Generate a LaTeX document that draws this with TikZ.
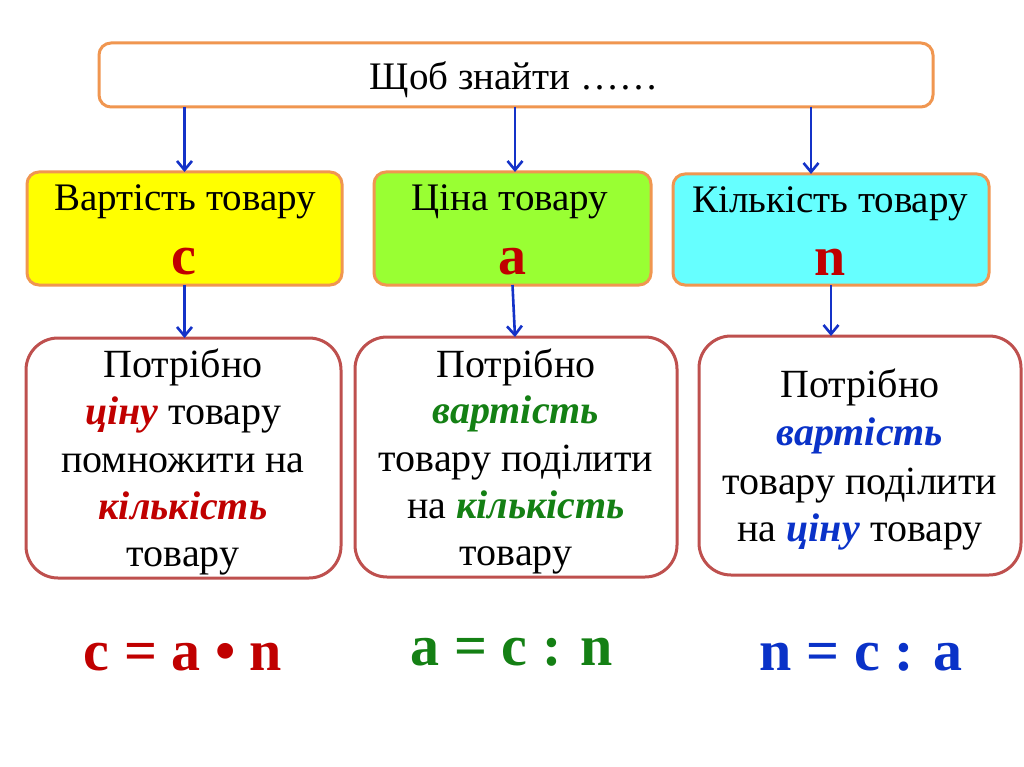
\documentclass[tikz,border=0pt]{standalone}
\usepackage{fontspec}
\setmainfont{Liberation Serif}
\usetikzlibrary{arrows.meta}
\definecolor{boxorange}{RGB}{240,150,80}
\definecolor{boxred}{RGB}{190,80,78}
\definecolor{txtred}{RGB}{192,0,0}
\definecolor{txtgreen}{RGB}{20,128,20}
\definecolor{txtblue}{RGB}{10,50,200}
\definecolor{arrblue}{RGB}{20,50,200}
\definecolor{fyellow}{RGB}{255,255,0}
\definecolor{fgreen}{RGB}{153,255,51}
\definecolor{fcyan}{RGB}{102,255,255}
\tikzset{
  obox/.style={draw=boxorange, line width=3pt, rounded corners=12pt, inner sep=0pt, outer sep=0pt},
  rbox/.style={draw=boxred, line width=3pt, rounded corners=32pt, fill=white, inner sep=0pt, outer sep=0pt},
  arr/.style={draw=arrblue, line width=2.6pt, -{Straight Barb[length=9pt,width=15pt]}},
  head/.style={anchor=base, inner sep=0pt, font=\fontsize{39}{46}\selectfont},
  body/.style={anchor=base, inner sep=0pt, font=\fontsize{40}{48}\selectfont},
  letter/.style={anchor=base, inner sep=0pt, text=txtred, font=\fontsize{56}{60}\selectfont\bfseries},
  formula/.style={anchor=base, inner sep=0pt, font=\fontsize{58}{60}\selectfont\bfseries}
}
\newcommand{\emr}[1]{\textcolor{txtred}{\textbf{\textit{#1}}}}
\newcommand{\emg}[1]{\textcolor{txtgreen}{\textbf{\textit{#1}}}}
\newcommand{\emb}[1]{\textcolor{txtblue}{\textbf{\textit{#1}}}}
\begin{document}
\begin{tikzpicture}[x=1pt,y=-1pt]
\useasboundingbox (0,0) rectangle (1024,767);
\fill[white] (0,0) rectangle (1024,767);

% top box
\node[obox, fill=white, minimum width=834pt, minimum height=64pt] (top) at (516,75) {};
\node[head] (toptxt) at (514,90) {Щоб знайти ……};

% second row
\node[obox, fill=fyellow, minimum width=315pt, minimum height=113pt] (yel) at (184.5,228.5) {};
\node[obox, fill=fgreen, minimum width=277pt, minimum height=113pt] (grn) at (512.5,228.5) {};
\node[obox, fill=fcyan, minimum width=316pt, minimum height=111pt] (cyn) at (831,229.5) {};

\node[head] (yeltxt) at (185,211) {Вартість товару};
\node[head] (grntxt) at (510,211) {Ціна товару};
\node[head] (cyntxt) at (830,213) {Кількість товару};
\node[letter] (lc) at (184,274) {c};
\node[letter] (la) at (512,274) {a};
\node[letter] (ln) at (830,275) {n};

% third row
\node[rbox, minimum width=315pt, minimum height=240pt] (b1) at (183.5,458) {};
\node[rbox, minimum width=322pt, minimum height=240pt] (b2) at (516,457) {};
\node[rbox, minimum width=322pt, minimum height=239pt] (b3) at (860,455.5) {};

\node[body] (b1l1) at (183,377) {Потрібно};
\node[body] (b1l2) at (183,424) {\emr{ціну} товару};
\node[body] (b1l3) at (183,472) {помножити на};
\node[body] (b1l4) at (183,519) {\emr{кількість}};
\node[body] (b1l5) at (183,566) {товару};

\node[body] (b2l1) at (516,377) {Потрібно};
\node[body] (b2l2) at (516,423) {\emg{вартість}};
\node[body] (b2l3) at (516,471) {товару поділити};
\node[body] (b2l4) at (516,518) {на \emg{кількість}};
\node[body] (b2l5) at (516,565) {товару};

\node[body] (b3l1) at (860,397) {Потрібно};
\node[body] (b3l2) at (860,445) {\emb{вартість}};
\node[body] (b3l3) at (860,494) {товару поділити};
\node[body] (b3l4) at (860,541) {на \emb{ціну} товару};

% formulas
\node[formula, text=txtred] (f1) at (183,670) {c = a • n};
\node[formula, text=txtgreen] (f2) at (512,665) {a = c : n};
\node[formula, text=txtblue] (f3) at (861,670) {n = c : a};

% arrows
\draw[arr] (top.south -| yel.north) -- (yel.north);
\draw[arr] ([xshift=2.5pt]top.south -| grn.north) -- ([xshift=2.5pt]grn.north);
\draw[arr] ([xshift=-20pt]top.south -| cyn.north) -- ([xshift=-20pt]cyn.north);
\draw[arr] (yel.south) -- (yel.south |- b1.north);
\draw[arr] (grn.south) -- ([xshift=-1pt]b2.north);
\draw[arr] (cyn.south) -- (cyn.south |- b3.north);
\end{tikzpicture}
\end{document}
